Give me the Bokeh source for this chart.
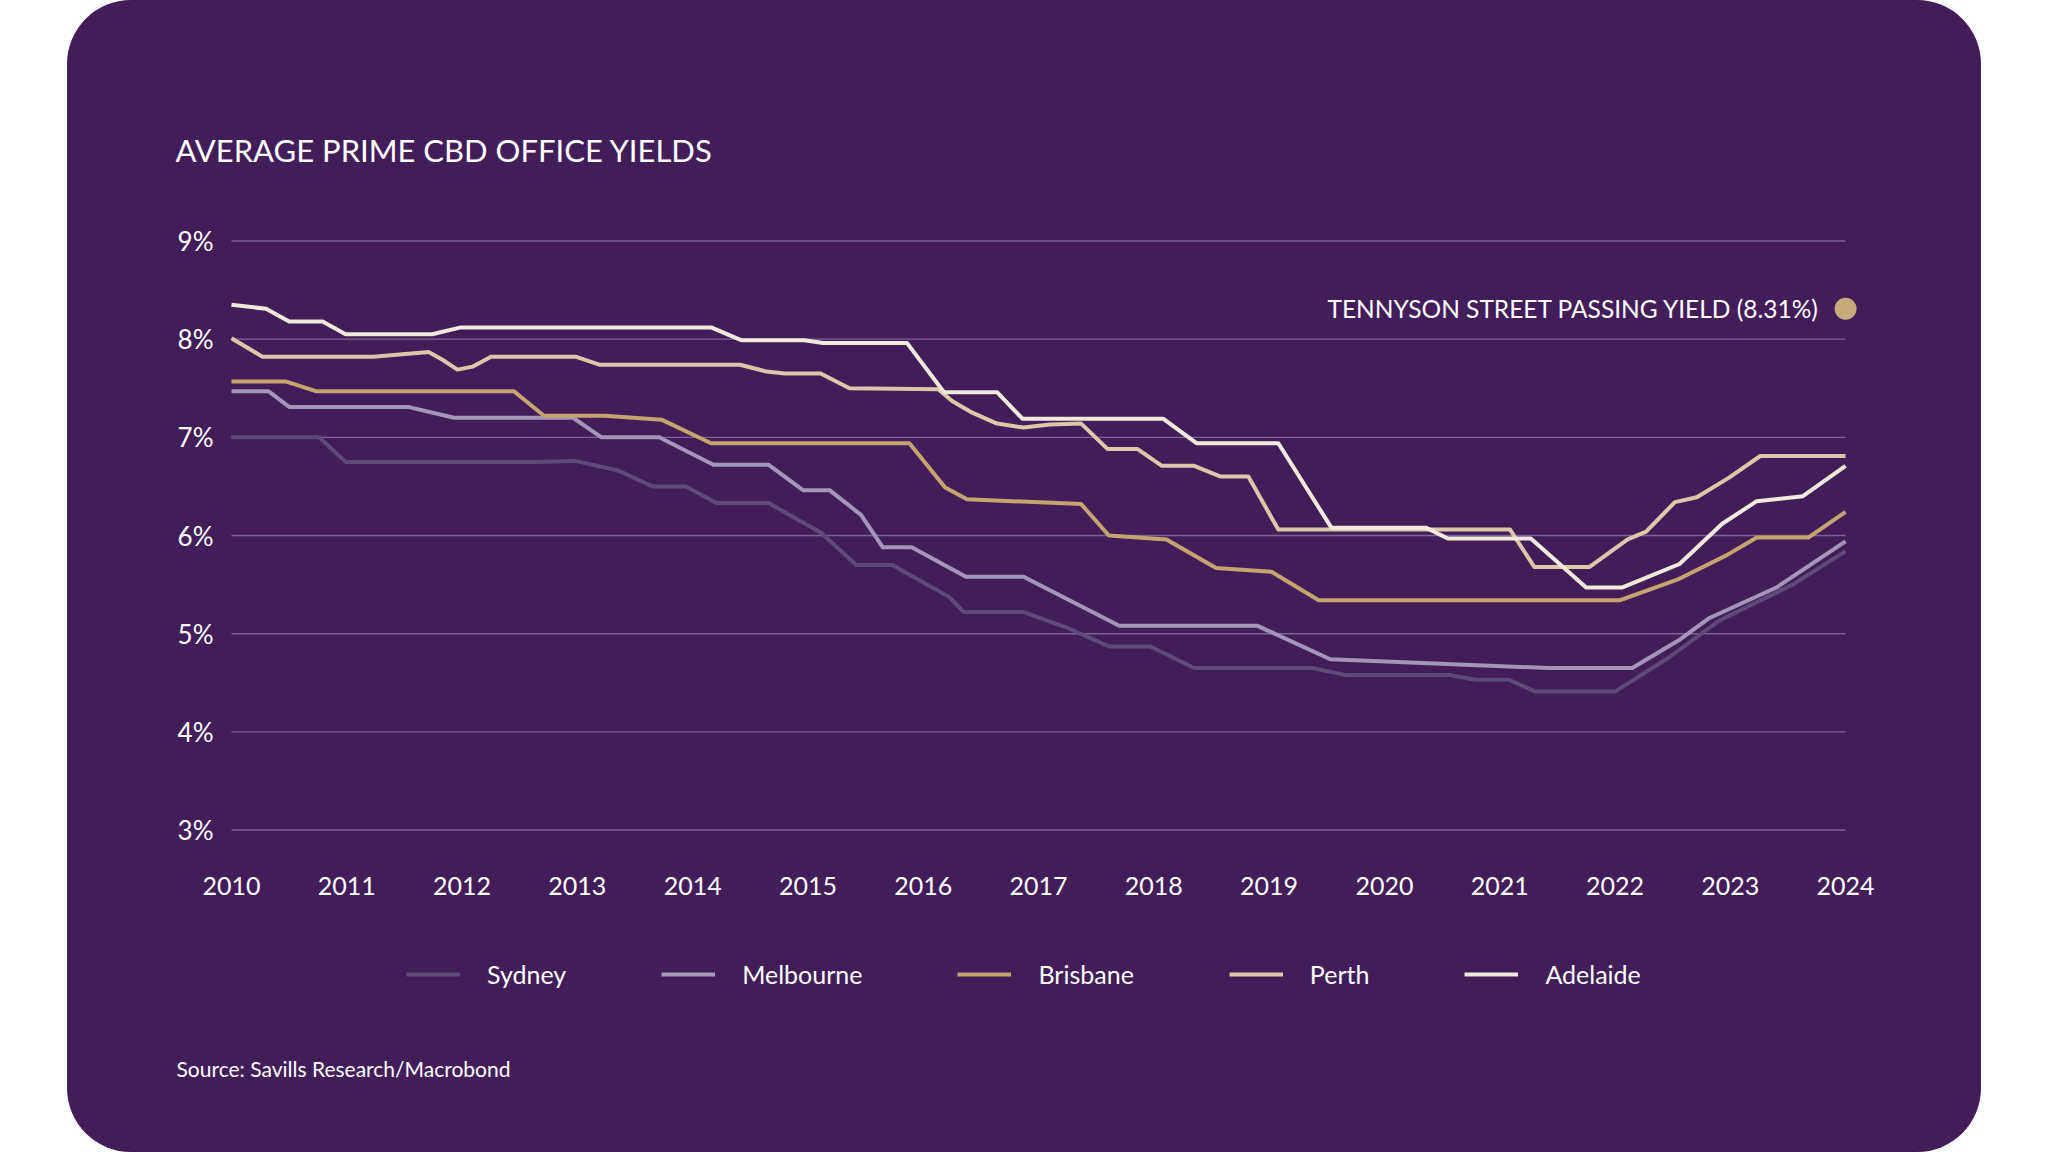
from bokeh.plotting import figure
from bokeh.models import Range1d, FixedTicker, Label, Legend, LegendItem
from bokeh.embed import file_html
from bokeh.resources import INLINE

# ---------------- data ----------------
year_ticks = [2010, 2011, 2012, 2013, 2014, 2015, 2016, 2017, 2018, 2019, 2020, 2021, 2022, 2023, 2024]
yield_ticks = [3, 4, 5, 6, 7, 8, 9]

sydney_x = [2010.0, 2010.76, 2010.99, 2012.61, 2012.98, 2013.36, 2013.65, 2013.94, 2014.21, 2014.66,
            2015.11, 2015.42, 2015.73, 2016.23, 2016.35, 2016.87, 2017.25, 2017.61, 2017.97, 2018.35,
            2019.37, 2019.66, 2020.56, 2020.79, 2021.08, 2021.31, 2022.0, 2022.47, 2022.90, 2023.54, 2024.0]
sydney_y = [7.00, 7.00, 6.75, 6.75, 6.76, 6.66, 6.50, 6.50, 6.33, 6.33,
            6.03, 5.70, 5.70, 5.37, 5.22, 5.22, 5.06, 4.87, 4.87, 4.65,
            4.65, 4.58, 4.58, 4.53, 4.53, 4.41, 4.41, 4.76, 5.13, 5.50, 5.84]

melbourne_x = [2010.0, 2010.32, 2010.50, 2011.53, 2011.93, 2012.96, 2013.21, 2013.71, 2014.18, 2014.66,
               2014.96, 2015.19, 2015.46, 2015.65, 2015.90, 2016.37, 2016.87, 2017.70, 2018.90, 2019.53,
               2021.42, 2022.15, 2022.55, 2022.82, 2023.40, 2024.0]
melbourne_y = [7.47, 7.47, 7.31, 7.31, 7.20, 7.20, 7.00, 7.00, 6.72, 6.72,
               6.46, 6.46, 6.21, 5.88, 5.88, 5.58, 5.58, 5.08, 5.08, 4.74,
               4.65, 4.65, 4.93, 5.16, 5.47, 5.94]

brisbane_x = [2010.0, 2010.47, 2010.73, 2012.45, 2012.71, 2013.24, 2013.73, 2014.16, 2015.88, 2016.19,
              2016.38, 2017.37, 2017.61, 2018.11, 2018.54, 2019.02, 2019.43, 2022.04, 2022.54, 2022.97,
              2023.23, 2023.68, 2024.0]
brisbane_y = [7.57, 7.57, 7.47, 7.47, 7.22, 7.22, 7.18, 6.94, 6.94, 6.49,
              6.37, 6.32, 6.00, 5.96, 5.67, 5.63, 5.34, 5.34, 5.55, 5.80,
              5.98, 5.98, 6.24]

perth_x = [2010.0, 2010.27, 2011.23, 2011.71, 2011.83, 2011.96, 2012.09, 2012.25, 2012.99, 2013.19,
           2014.41, 2014.64, 2014.80, 2015.11, 2015.36, 2016.13, 2016.25, 2016.41, 2016.64, 2016.87,
           2017.10, 2017.37, 2017.60, 2017.86, 2018.07, 2018.35, 2018.58, 2018.82, 2019.08, 2021.09,
           2021.30, 2021.78, 2022.11, 2022.27, 2022.52, 2022.71, 2022.99, 2023.26, 2024.0]
perth_y = [8.01, 7.82, 7.82, 7.87, 7.79, 7.69, 7.72, 7.82, 7.82, 7.74,
           7.74, 7.67, 7.65, 7.65, 7.50, 7.49, 7.37, 7.26, 7.14, 7.10,
           7.13, 7.14, 6.88, 6.88, 6.71, 6.71, 6.60, 6.60, 6.06, 6.06,
           5.68, 5.68, 5.96, 6.04, 6.34, 6.39, 6.59, 6.81, 6.81]

adelaide_x = [2010.0, 2010.30, 2010.50, 2010.79, 2010.99, 2011.74, 2011.99, 2014.16, 2014.42, 2014.97,
              2015.13, 2015.86, 2016.18, 2016.64, 2016.86, 2018.08, 2018.37, 2019.08, 2019.54, 2020.36,
              2020.55, 2021.27, 2021.75, 2022.06, 2022.56, 2022.93, 2023.23, 2023.63, 2024.0]
adelaide_y = [8.35, 8.31, 8.18, 8.18, 8.05, 8.05, 8.12, 8.12, 7.99, 7.99,
              7.96, 7.96, 7.46, 7.46, 7.19, 7.19, 6.94, 6.94, 6.08, 6.08,
              5.97, 5.97, 5.47, 5.47, 5.71, 6.12, 6.35, 6.40, 6.71]

tennyson_year = [2024]
tennyson_yield = [8.31]

series_names = ["Sydney", "Melbourne", "Brisbane", "Perth", "Adelaide"]

# ---------------- style ----------------
FONT = "Lato"
BG = "#421D59"
GRID = "#7D6397"
TEXT = "#FFFFFF"
colors = ["#5F4A7B", "#A595BB", "#C4A56F", "#DCC8A8", "#F1EADC"]
DOT = "#C6AB7A"

W, H = 1914, 1152
L0, B0 = 80, 70                 # side panels (axes are pinned inside the frame)
FW, FH = W - L0, H - B0
px_per_unit = 98.17
px_per_year = 115.29
x_lo = year_ticks[0] - (164 - L0) / px_per_year
x_hi = x_lo + FW / px_per_year
y_hi = 9 + 240.5 / px_per_unit
y_lo = y_hi - FH / px_per_unit
axis_y = y_hi - 840 / px_per_unit

p = figure(width=W, height=H, output_backend="svg", toolbar_location=None,
           x_range=Range1d(x_lo, x_hi), y_range=Range1d(y_lo, y_hi),
           min_border_left=L0, min_border_right=0, min_border_top=0, min_border_bottom=B0)
# the card colour is painted by the host element, so there is no seam at the frame edge
p.background_fill_color = None
p.border_fill_color = None
p.outline_line_color = None
p.grid.visible = False
p.margin = (0, 0, 0, 67)
p.styles = {"border-radius": "64px", "overflow": "hidden", "background-color": BG}

# grid lines
p.segment(x0=year_ticks[0], x1=year_ticks[-1], y0=yield_ticks, y1=yield_ticks,
          line_color=GRID, line_width=1.4)

# axes
for ax in (p.xaxis[0], p.yaxis[0]):
    ax.axis_line_color = None
    ax.major_tick_line_color = None
    ax.minor_tick_line_color = None
    ax.major_tick_out = 0
    ax.minor_tick_out = 0
    ax.major_label_text_font = FONT
    ax.major_label_text_color = TEXT
p.xaxis.fixed_location = axis_y
p.xaxis.ticker = FixedTicker(ticks=year_ticks)
p.xaxis.major_label_overrides = {y: str(y) for y in year_ticks}
p.xaxis.major_label_standoff = 36
p.xaxis.major_label_text_font_size = "25px"
p.yaxis.fixed_location = year_ticks[0]
p.yaxis.ticker = FixedTicker(ticks=yield_ticks)
p.yaxis.major_label_overrides = {v: f"{v}%" for v in yield_ticks}
p.yaxis.major_label_standoff = 18
p.yaxis.major_label_text_font_size = "26px"

# series
xs_all = [sydney_x, melbourne_x, brisbane_x, perth_x, adelaide_x]
ys_all = [sydney_y, melbourne_y, brisbane_y, perth_y, adelaide_y]
items = []
for name, xs, ys, c in zip(series_names, xs_all, ys_all, colors):
    r = p.line(xs, ys, line_color=c, line_width=4, line_join="round")
    items.append(LegendItem(label=name, renderers=[r]))

legend = Legend(items=items, orientation="horizontal", location=(406 - 67 - L0, FH - 989),
                spacing=95, glyph_width=54, label_standoff=27, padding=0, margin=0,
                background_fill_alpha=0, border_line_alpha=0,
                label_text_font=FONT, label_text_font_size="25px", label_text_color=TEXT)
p.add_layout(legend)

# Tennyson point
p.scatter(tennyson_year, tennyson_yield, size=22, color=DOT, line_color=None)
p.add_layout(Label(x=tennyson_year[0], y=tennyson_yield[0], x_offset=-26,
                   text=f"TENNYSON STREET PASSING YIELD ({tennyson_yield[0]}%)",
                   text_align="right", text_baseline="middle",
                   text_font=FONT, text_font_size="24.5px", text_color=TEXT))

# title and source (screen units, relative to the frame's bottom-left)
p.add_layout(Label(x=175 - 67 - L0, y=FH - 149, x_units="screen", y_units="screen",
                   text="AVERAGE PRIME CBD OFFICE YIELDS", text_baseline="middle",
                   text_font=FONT, text_font_size="31px", text_color=TEXT))
p.add_layout(Label(x=176 - 67 - L0, y=FH - 1068, x_units="screen", y_units="screen",
                   text="Source: Savills Research/Macrobond", text_baseline="middle",
                   text_font=FONT, text_font_size="21px", text_color=TEXT))

open("out.html", "w").write(file_html(p, INLINE))
